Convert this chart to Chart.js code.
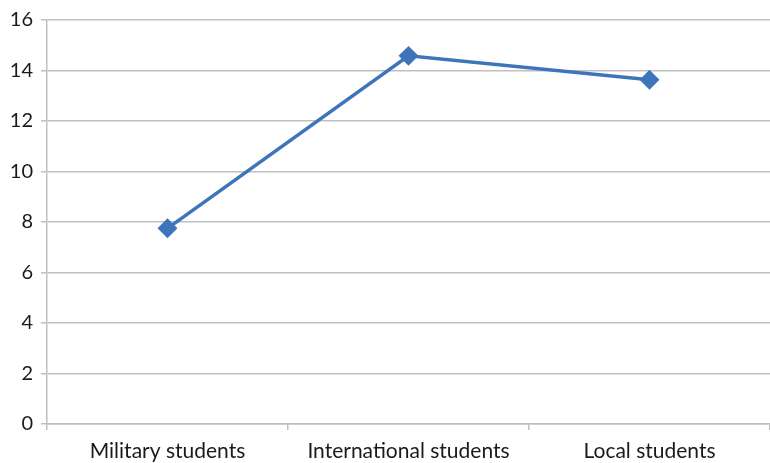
<!DOCTYPE html>
<html><head><meta charset="utf-8">
<script src="https://cdn.jsdelivr.net/npm/chart.js@4"></script>
<style>html,body{margin:0;padding:0;background:#fff}</style>
</head><body>
<canvas id="c" width="770" height="463"></canvas>
<script>
const categories = ["Military students", "International students", "Local students"];
const values = [7.75, 14.58, 13.63];
const yTicks = [0, 2, 4, 6, 8, 10, 12, 14, 16];

const grid = '#BFBFBF';
new Chart(document.getElementById('c'), {
  type: 'line',
  data: {
    labels: categories,
    datasets: [{
      data: values,
      borderColor: '#3E75BA',
      backgroundColor: '#3E75BA',
      borderWidth: 3.5,
      pointStyle: 'rectRot',
      pointRadius: 7.5,
      pointHoverRadius: 7.5,
      tension: 0
    }]
  },
  options: {
    responsive: false,
    animation: false,
    layout: { autoPadding: false, padding: { top: 11, right: 0, left: 0, bottom: 0 } },
    plugins: { legend: { display: false }, tooltip: { enabled: false } },
    scales: {
      x: {
        offset: true,
        grid: { offset: true, drawOnChartArea: false, drawTicks: true, tickLength: 6, color: grid, lineWidth: 1.5 },
        border: { color: grid, width: 1.5 },
        ticks: { color: '#1a1a1a', font: { family: 'Lato', size: 21 }, padding: 9, maxRotation: 0 },
        afterFit: s => { s.height = 39; s.paddingLeft = 0; s.paddingRight = 0; }
      },
      y: {
        min: 0, max: 16,
        afterBuildTicks: s => { s.ticks = yTicks.map(v => ({ value: v })); },
        grid: { color: grid, lineWidth: 1.5, tickLength: 6 },
        border: { color: grid, width: 1.5 },
        ticks: { color: '#1a1a1a', font: { family: 'Lato', size: 20 }, padding: 8 },
        afterFit: s => { s.width = 47; }
      }
    }
  }
});
</script>
</body></html>
